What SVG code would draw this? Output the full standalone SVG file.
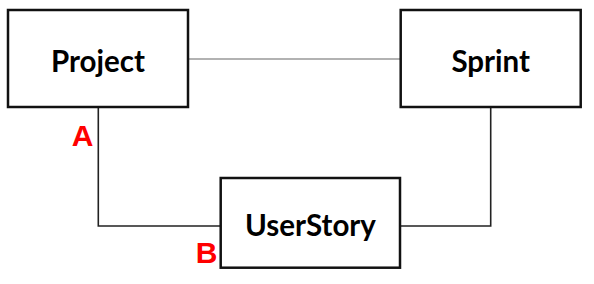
<svg xmlns="http://www.w3.org/2000/svg" width="594" height="284" viewBox="0 0 594 284">
<style>
.box{fill:#fff;stroke:#111;stroke-width:2.5}
.lbl{font-family:Lato,"Liberation Sans",sans-serif;font-weight:bold;font-size:29.5px;fill:#000;text-anchor:middle}
.mark{font-family:"Liberation Sans",Arial,sans-serif;font-weight:bold;font-size:30px;fill:#f00;text-anchor:middle}
.conn{fill:none;stroke:#222;stroke-width:1.6}
</style>
<rect width="594" height="284" fill="#fff"/>
<g id="connectors">
<line x1="188" y1="59" x2="400.7" y2="59" stroke="#666" stroke-width="1.2"/>
<polyline class="conn" points="98.3,107 98.3,226 220.7,226"/>
<polyline class="conn" points="400,226 490.7,226 490.7,107"/>
</g>
<g id="project">
<rect class="box" x="8" y="10" width="180" height="97"/>
<text class="lbl" x="98" y="72">Project</text>
</g>
<g id="sprint">
<rect class="box" x="400.7" y="10" width="180" height="97"/>
<text class="lbl" x="490.7" y="72">Sprint</text>
</g>
<g id="userstory">
<rect class="box" x="220.7" y="178" width="179.3" height="89.7"/>
<text class="lbl" x="310.5" y="236">UserStory</text>
</g>
<text class="mark" x="82.5" y="146">A</text>
<text class="mark" x="206.5" y="263">B</text>
</svg>
